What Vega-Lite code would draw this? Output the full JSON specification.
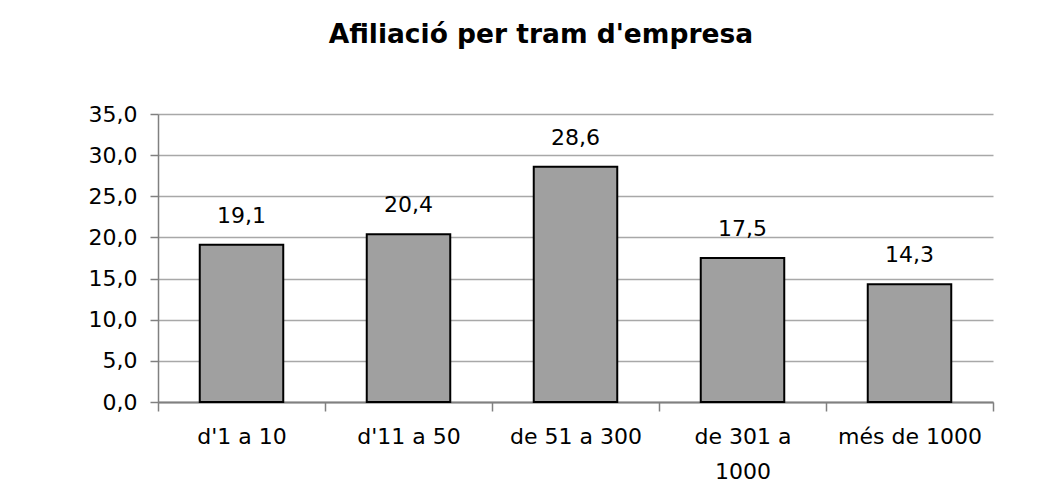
{
  "$schema": "https://vega.github.io/schema/vega-lite/v6.json",
  "autosize": {"type": "none"},
  "padding": {"left": 158, "top": 114, "right": 71, "bottom": 95},
  "width": 835,
  "height": 288,
  "background": "white",
  "config": {
    "locale": {"number": {"decimal": ",", "thousands": ".", "grouping": [3], "currency": ["", " €"]}},
    "view": {"stroke": null},
    "font": "DejaVu Sans"
  },
  "title": {
    "text": "Afiliació per tram d'empresa",
    "font": "DejaVu Sans",
    "fontSize": 26.5,
    "fontWeight": "bold",
    "color": "black",
    "anchor": "middle",
    "frame": "bounds",
    "baseline": "alphabetic",
    "offset": 34
  },
  "data": {
    "values": [
      {"tram": "d'1 a 10", "valor": 19.1},
      {"tram": "d'11 a 50", "valor": 20.4},
      {"tram": "de 51 a 300", "valor": 28.6},
      {"tram": "de 301 a 1000", "valor": 17.5},
      {"tram": "més de 1000", "valor": 14.3}
    ]
  },
  "encoding": {
    "x": {
      "field": "tram",
      "type": "nominal",
      "sort": null,
      "scale": {"paddingInner": 0, "paddingOuter": 0},
      "axis": {
        "title": null,
        "labelAngle": 0,
        "labelFont": "DejaVu Sans",
        "labelFontSize": 22,
        "labelColor": "black",
        "labelPadding": 15,
        "labelBaseline": "top",
        "labelLineHeight": 35,
        "labelExpr": "datum.value == 'de 301 a 1000' ? ['de 301 a', '1000'] : datum.value",
        "tickBand": "extent",
        "tickSize": 9,
        "tickColor": "#808080",
        "tickWidth": 1.5,
        "domainColor": "#808080",
        "domainWidth": 2,
        "grid": false
      }
    },
    "y": {
      "field": "valor",
      "type": "quantitative",
      "scale": {"domain": [0, 35], "nice": false},
      "axis": {
        "title": null,
        "values": [0, 5, 10, 15, 20, 25, 30, 35],
        "format": ".1f",
        "labelFont": "DejaVu Sans",
        "labelFontSize": 22,
        "labelColor": "black",
        "labelPadding": 13,
        "tickSize": 8,
        "tickColor": "#808080",
        "tickWidth": 1.5,
        "domainColor": "#808080",
        "domainWidth": 1.5,
        "grid": true,
        "gridColor": "#a8a8a8",
        "gridWidth": 1.5
      }
    }
  },
  "layer": [
    {
      "mark": {"type": "bar", "width": {"band": 0.5}, "fill": "#a0a0a0", "stroke": "black", "strokeWidth": 2}
    },
    {
      "mark": {"type": "text", "baseline": "alphabetic", "dy": -22, "font": "DejaVu Sans", "fontSize": 22, "color": "black"},
      "encoding": {
        "text": {"field": "valor", "type": "quantitative", "format": ".1f"}
      }
    }
  ]
}
